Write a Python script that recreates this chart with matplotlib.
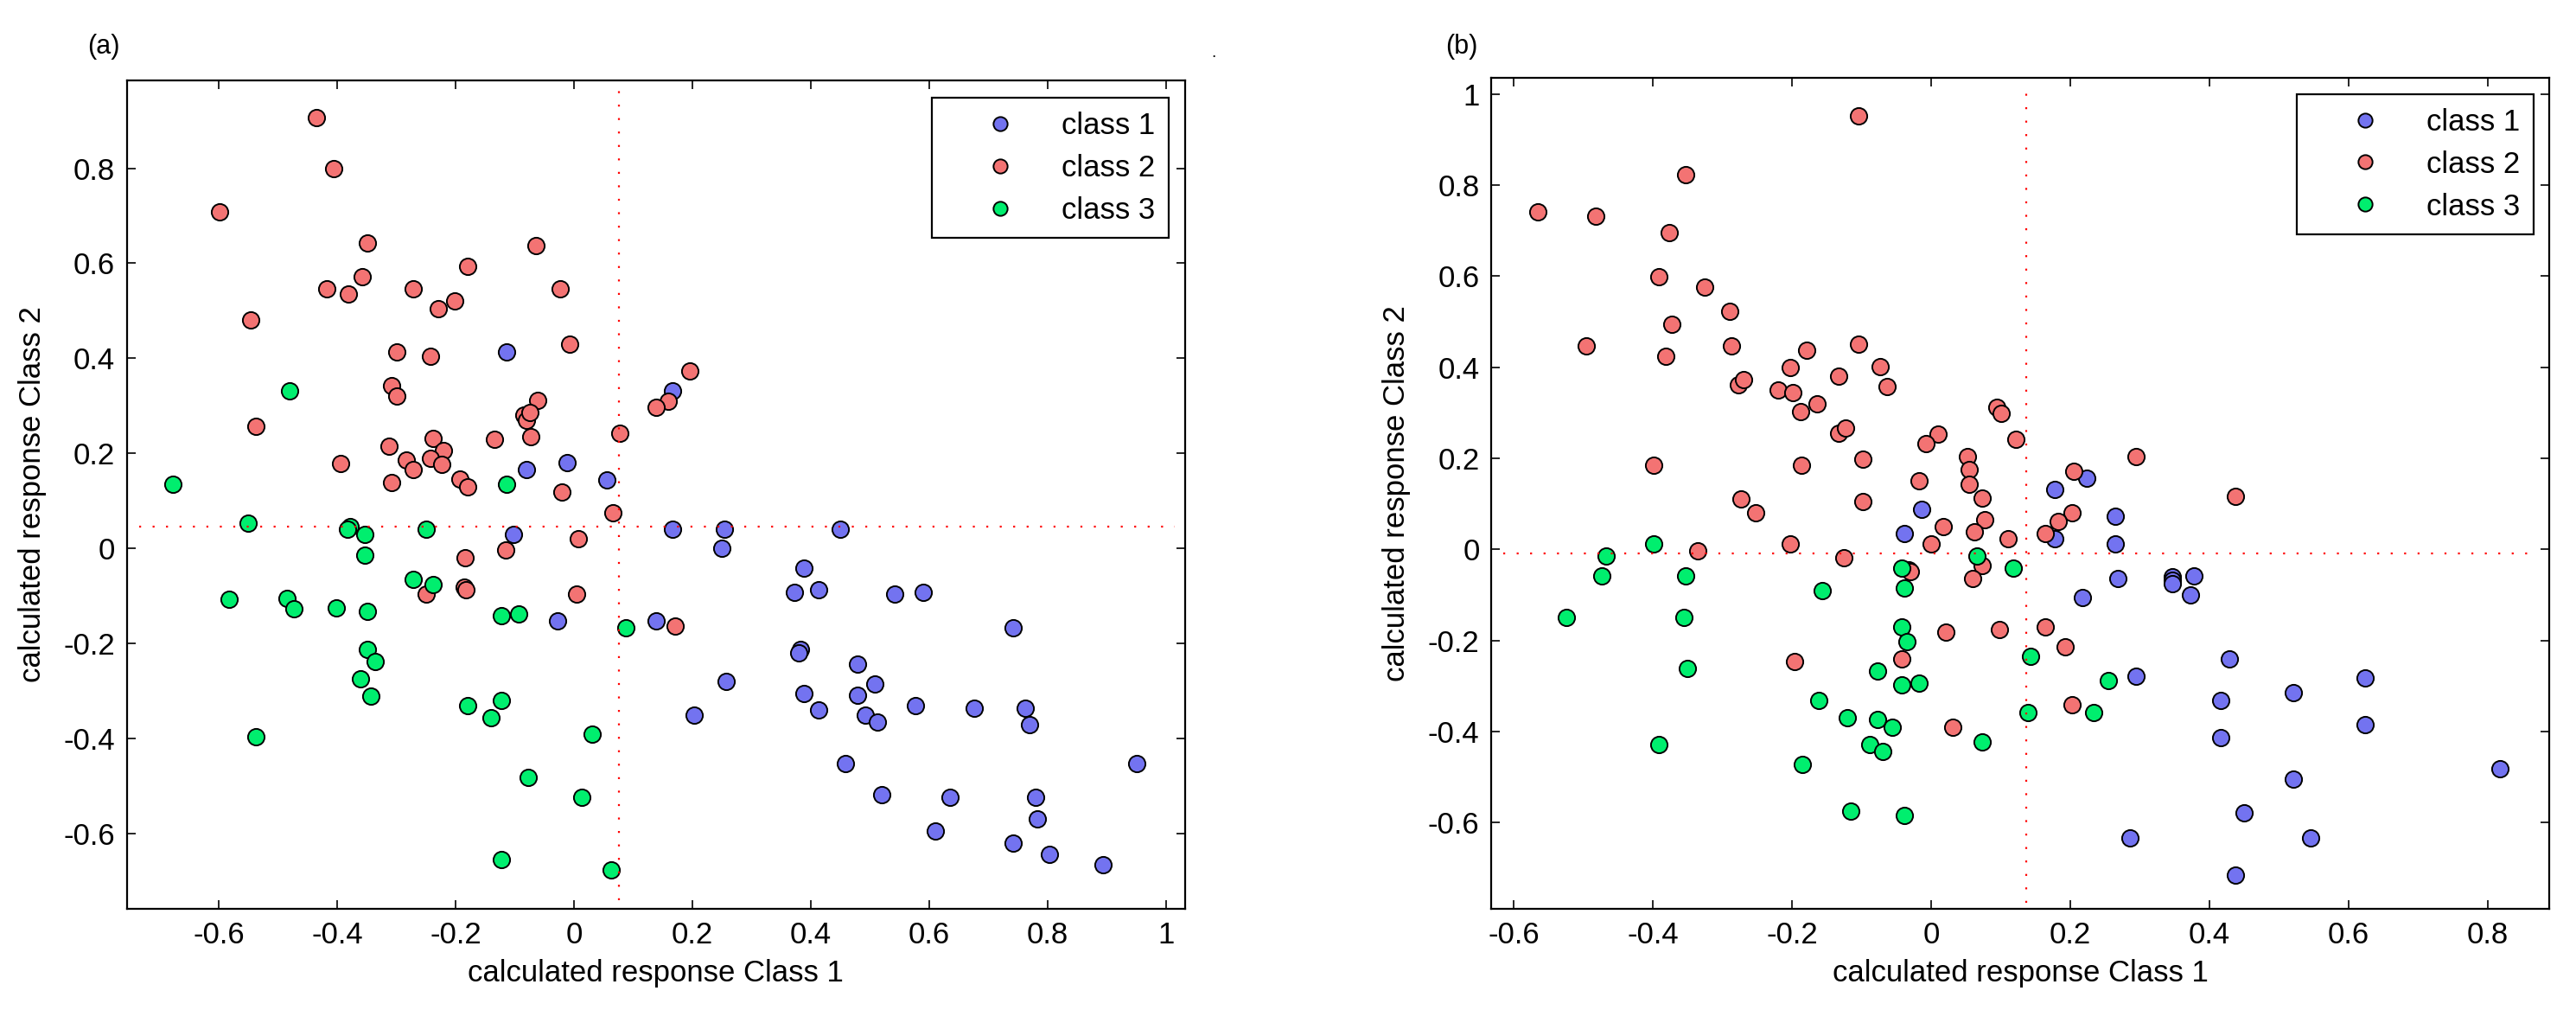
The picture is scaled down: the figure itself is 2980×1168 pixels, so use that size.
import matplotlib
matplotlib.use('Agg')
import matplotlib.pyplot as plt

plt.rcParams['font.family'] = ['Liberation Sans', 'DejaVu Sans']
plt.rcParams['axes.unicode_minus'] = False

# ---- panel (a) ----
a_c1_x = [-0.114, -0.011, -0.081, 0.055, 0.167, -0.102, -0.028, 0.167, 0.254, 0.450, 0.250, 0.389,
          0.372, 0.413, 0.541, 0.590, 0.139, 0.742, 0.383, 0.379, 0.479, 0.257, 0.508, 0.389, 0.479,
          0.413, 0.203, 0.492, 0.512, 0.577, 0.676, 0.762, 0.770, 0.458, 0.950, 0.520, 0.635, 0.779,
          0.782, 0.610, 0.742, 0.803, 0.893]
a_c1_y = [0.414, 0.180, 0.165, 0.144, 0.332, 0.030, -0.152, 0.041, 0.041, 0.041, 0.000, -0.042,
          -0.092, -0.087, -0.097, -0.092, -0.152, -0.168, -0.213, -0.221, -0.244, -0.280, -0.285, -0.305, -0.310,
          -0.341, -0.352, -0.352, -0.366, -0.331, -0.337, -0.337, -0.372, -0.453, -0.453, -0.519, -0.524, -0.524,
          -0.570, -0.595, -0.620, -0.645, -0.666]

a_c2_x = [-0.435, -0.406, -0.599, -0.349, -0.064, -0.180, -0.357, -0.418, -0.381, -0.271, -0.024, -0.201,
          -0.229, -0.546, -0.007, -0.300, -0.242, -0.308, -0.300, -0.062, -0.085, -0.080, -0.075, -0.538,
          0.078, -0.073, -0.238, -0.135, -0.313, -0.220, -0.283, -0.242, -0.394, -0.271, -0.224, -0.193,
          -0.180, -0.308, -0.021, 0.066, 0.196, 0.159, 0.139, 0.008, -0.115, -0.184, -0.250, -0.186,
          -0.182, 0.005, 0.171]
a_c2_y = [0.907, 0.800, 0.709, 0.642, 0.638, 0.593, 0.572, 0.546, 0.536, 0.546, 0.546, 0.520,
          0.505, 0.480, 0.429, 0.414, 0.404, 0.343, 0.321, 0.311, 0.280, 0.270, 0.285, 0.256,
          0.242, 0.235, 0.231, 0.230, 0.215, 0.206, 0.186, 0.190, 0.179, 0.165, 0.176, 0.146,
          0.130, 0.139, 0.119, 0.074, 0.373, 0.310, 0.296, 0.021, -0.004, -0.020, -0.097, -0.081,
          -0.088, -0.097, -0.163]

a_c3_x = [-0.480, -0.677, -0.114, -0.551, -0.378, -0.383, -0.353, -0.250, -0.353, -0.271, -0.238, -0.583,
          -0.485, -0.473, -0.401, -0.349, -0.123, -0.093, 0.088, -0.349, -0.336, -0.360, -0.343, -0.180,
          -0.123, -0.140, 0.031, -0.537, -0.077, 0.013, -0.122, 0.063]
a_c3_y = [0.332, 0.134, 0.134, 0.052, 0.046, 0.040, 0.030, 0.041, -0.015, -0.065, -0.076, -0.107,
          -0.106, -0.127, -0.126, -0.132, -0.142, -0.138, -0.168, -0.213, -0.239, -0.275, -0.311, -0.331,
          -0.321, -0.357, -0.392, -0.397, -0.483, -0.524, -0.656, -0.677]

a_hline_y = 0.046
a_vline_x = 0.076

# ---- panel (b) ----
b_c1_x = [0.178, 0.223, -0.014, 0.265, -0.039, 0.178, 0.265, 0.268, 0.346, 0.346, 0.346, 0.378, 0.373,
          0.217, 0.294, 0.429, 0.624, 0.520, 0.416, 0.624, 0.416, 0.817, 0.520, 0.450, 0.286, 0.545, 0.437]
b_c1_y = [0.131, 0.157, 0.088, 0.072, 0.034, 0.023, 0.013, -0.063, -0.060, -0.068, -0.075, -0.058, -0.100,
          -0.106, -0.278, -0.240, -0.283, -0.315, -0.332, -0.385, -0.413, -0.482, -0.504, -0.579, -0.633, -0.633, -0.715]

b_c2_x = [-0.105, -0.353, -0.566, -0.482, -0.377, -0.392, -0.325, -0.290, -0.373, -0.496, -0.287, -0.381,
          -0.179, -0.105, -0.203, -0.073, -0.277, -0.270, -0.133, -0.063, -0.220, -0.199, -0.164, -0.188,
          0.094, 0.101, -0.133, -0.123, 0.010, -0.008, 0.122, 0.052, 0.055, -0.098, 0.294, -0.018,
          0.055, 0.205, 0.073, -0.098, 0.202, 0.077, 0.182, 0.017, 0.062, 0.164, 0.111, 0.000,
          -0.126, -0.032, -0.030, 0.073, 0.059, 0.021, 0.098, 0.164, 0.192, -0.042, 0.202, 0.031,
          -0.399, -0.186, -0.274, -0.252, -0.203, -0.336, -0.197, 0.437]
b_c2_y = [0.952, 0.823, 0.742, 0.731, 0.695, 0.598, 0.576, 0.522, 0.495, 0.447, 0.447, 0.425,
          0.438, 0.450, 0.399, 0.402, 0.361, 0.372, 0.380, 0.358, 0.351, 0.344, 0.320, 0.302,
          0.312, 0.299, 0.255, 0.266, 0.254, 0.233, 0.241, 0.204, 0.175, 0.198, 0.203, 0.150,
          0.144, 0.171, 0.112, 0.106, 0.080, 0.066, 0.062, 0.050, 0.039, 0.034, 0.024, 0.013,
          -0.019, -0.044, -0.048, -0.036, -0.063, -0.181, -0.175, -0.170, -0.213, -0.240, -0.342, -0.390,
          0.184, 0.184, 0.111, 0.080, 0.013, -0.004, -0.246, 0.117]

b_c3_x = [-0.399, -0.467, -0.473, -0.353, -0.157, -0.524, -0.356, -0.350, -0.161, -0.120, -0.391, -0.185,
          -0.115, -0.039, 0.066, -0.042, 0.118, -0.039, -0.042, -0.035, 0.143, -0.077, -0.042, -0.017,
          0.255, 0.234, 0.139, -0.077, -0.056, 0.073, -0.088, -0.070]
b_c3_y = [0.013, -0.015, -0.058, -0.058, -0.090, -0.149, -0.149, -0.262, -0.331, -0.369, -0.428, -0.472,
          -0.574, -0.585, -0.014, -0.041, -0.041, -0.084, -0.170, -0.202, -0.235, -0.267, -0.298, -0.293,
          -0.288, -0.358, -0.358, -0.374, -0.390, -0.422, -0.428, -0.444]

b_hline_y = -0.009
b_vline_x = 0.137

class_names = ['class 1', 'class 2', 'class 3']
class_colors = ['#7373F0', '#F37373', '#00EE6E']

a_xticks = [-0.6, -0.4, -0.2, 0, 0.2, 0.4, 0.6, 0.8, 1]
a_xlabels = ['-0.6', '-0.4', '-0.2', '0', '0.2', '0.4', '0.6', '0.8', '1']
a_yticks = [-0.6, -0.4, -0.2, 0, 0.2, 0.4, 0.6, 0.8]
a_ylabels = ['-0.6', '-0.4', '-0.2', '0', '0.2', '0.4', '0.6', '0.8']
b_xticks = [-0.6, -0.4, -0.2, 0, 0.2, 0.4, 0.6, 0.8]
b_xlabels = ['-0.6', '-0.4', '-0.2', '0', '0.2', '0.4', '0.6', '0.8']
b_yticks = [-0.6, -0.4, -0.2, 0, 0.2, 0.4, 0.6, 0.8, 1]
b_ylabels = ['-0.6', '-0.4', '-0.2', '0', '0.2', '0.4', '0.6', '0.8', '1']

fig = plt.figure(figsize=(29.8, 11.68), dpi=100)
ax1 = fig.add_axes([0.0493, 0.1002, 0.4107, 0.8202])
ax2 = fig.add_axes([0.5790, 0.0998, 0.4105, 0.8229])

fs = 25
dots = (0, (1, 6))


def draw_panel(ax, series, hy, vx, hx_range, vy_range, xlim, ylim, xt, xl, yt, yl, leg_anchor):
    for (xs, ys), name, col in zip(series, class_names, class_colors):
        ax.plot(xs, ys, linestyle='none', marker='o', ms=13.8, mfc=col, mec='black', mew=1.4, label=name)
    ax.plot(hx_range, [hy, hy], color='red', lw=1.6, linestyle=dots)
    ax.plot([vx, vx], vy_range, color='red', lw=1.6, linestyle=dots)
    ax.set_xlim(xlim)
    ax.set_ylim(ylim)
    ax.set_xticks(xt)
    ax.set_xticklabels(xl)
    ax.set_yticks(yt)
    ax.set_yticklabels(yl)
    ax.tick_params(direction='in', length=7.5, width=1.2, top=True, right=True, labelsize=fs, pad=10)
    for s in ax.spines.values():
        s.set_linewidth(1.6)
    ax.set_xlabel('calculated response Class 1', fontsize=fs, labelpad=8)
    ax.set_ylabel('calculated response Class 2', fontsize=fs, labelpad=14)
    leg = ax.legend(loc='upper right', bbox_to_anchor=leg_anchor, borderaxespad=0, fontsize=fs,
                    fancybox=False, edgecolor='black', framealpha=1, borderpad=0.45,
                    handlelength=3.65, handletextpad=0.22, labelspacing=0.46, markerscale=0.85)
    leg.get_frame().set_linewidth(1.6)


draw_panel(ax1, [(a_c1_x, a_c1_y), (a_c2_x, a_c2_y), (a_c3_x, a_c3_y)], a_hline_y, a_vline_x,
           [-0.735, 1.015], [-0.74, 0.975], (-0.755, 1.032), (-0.759, 0.985),
           a_xticks, a_xlabels, a_yticks, a_ylabels, (0.9845, 0.979))
draw_panel(ax2, [(b_c1_x, b_c1_y), (b_c2_x, b_c2_y), (b_c3_x, b_c3_y)], b_hline_y, b_vline_x,
           [-0.615, 0.871], [-0.776, 1.023], (-0.632, 0.888), (-0.79, 1.035),
           b_xticks, b_xlabels, b_yticks, b_ylabels, (0.9853, 0.9805))

fig.text(0.0403, 0.954, '(a)', fontsize=22, ha='center', va='center')
fig.text(0.5675, 0.954, '(b)', fontsize=22, ha='center', va='center')
fig.text(0.4712, 0.947, '.', fontsize=14, ha='center', va='center')

fig.savefig('out.png', dpi=100)
